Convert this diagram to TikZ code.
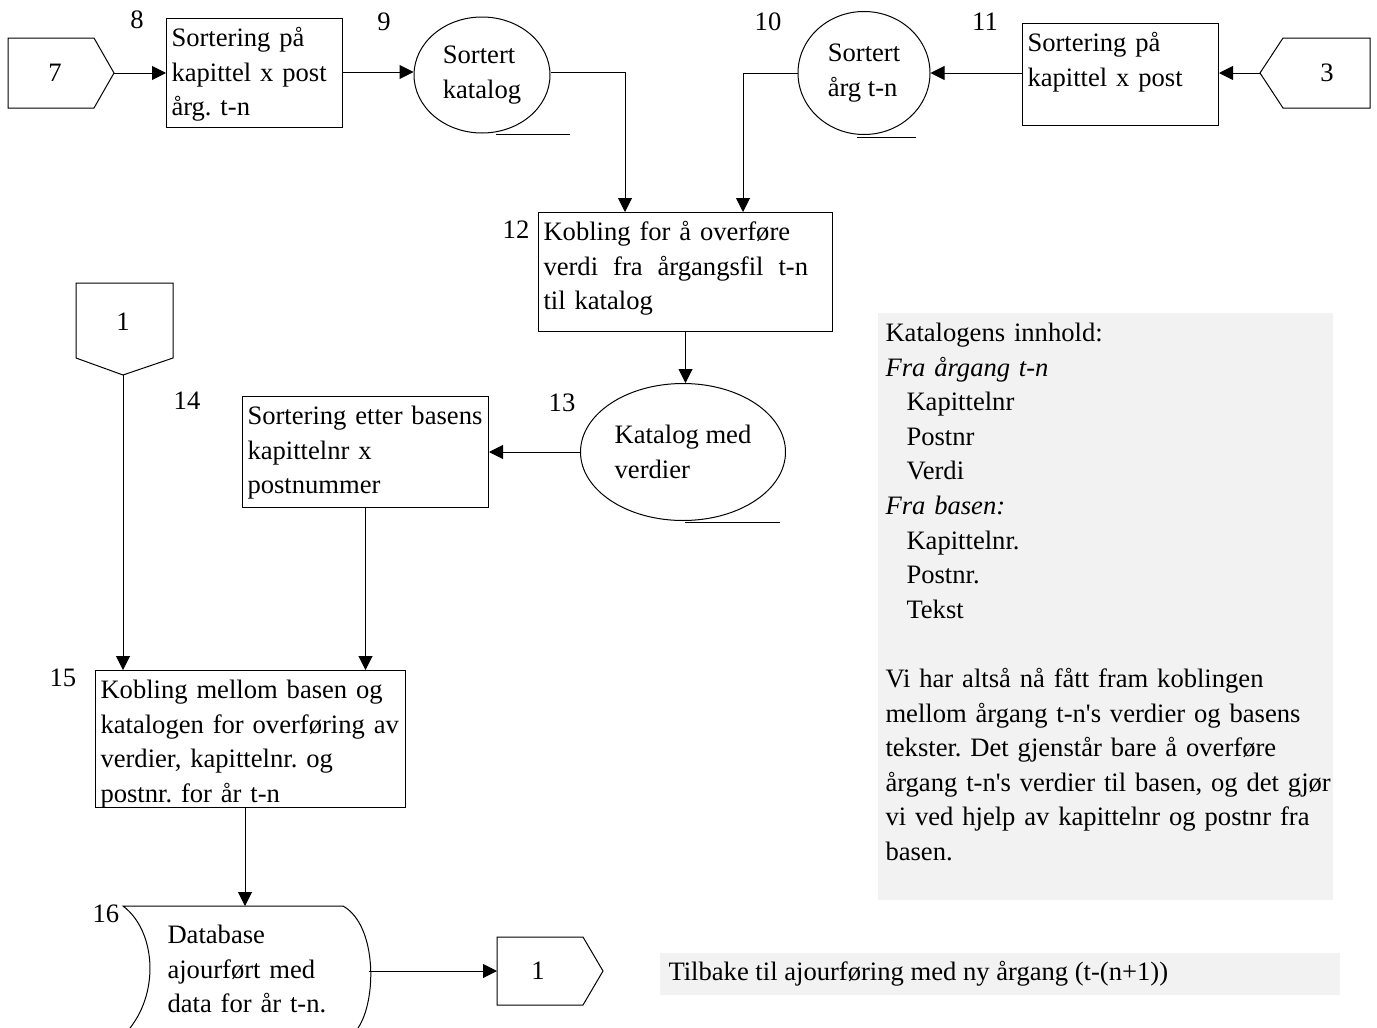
\documentclass[tikz,border=0pt]{standalone}
\usepackage{fontspec}
\setmainfont{Liberation Serif}
\usetikzlibrary{shapes.geometric,arrows.meta}

\tikzset{
  procbox/.style={draw, rectangle, anchor=north west, align=left,
    inner xsep=2.5pt, inner ysep=3pt, text height=11pt},
  store/.style={draw, ellipse, inner sep=0pt, align=left},
  flowarr/.style={-{Triangle[length=7pt,width=7pt]}},
  stepno/.style={inner sep=0pt},
  plaintext/.style={anchor=north west, align=left, inner sep=0pt, text height=11pt}
}

\begin{document}
\frenchspacing
\begin{tikzpicture}[x=0.5pt,y=-0.5pt,line width=0.5pt,
    font=\fontsize{13.3}{17.3}\selectfont]
  \useasboundingbox (0,0) rectangle (1377,1028);
  % grey notes
  \fill[black!5] (878,313) rectangle (1333,900);
  \fill[black!5] (660,953) rectangle (1340,995);

  % off-page connectors
  \draw (8,38) -- (94,38) -- (114,73) -- (94,108) -- (8,108) -- cycle;
  \node (c7) at (55,73) {7};
  \coordinate (c7tip) at (114,73);
  \draw (1370,38) -- (1283,38) -- (1260,73) -- (1283,108) -- (1370,108) -- cycle;
  \node (c3) at (1327,73) {3};
  \coordinate (c3tip) at (1260,73);
  \draw (76,283) -- (173,283) -- (173,358) -- (123,375) -- (76,358) -- cycle;
  \node (c1top) at (123,322) {1};
  \coordinate (c1tip) at (123,375);
  \draw (497,937) -- (583,937) -- (603,971) -- (583,1005) -- (497,1005) -- cycle;
  \node (c1bot) at (538,971) {1};
  \coordinate (c1in) at (497,971);

  % processes
  \node[procbox, text width=83pt, text depth=37.5pt] (b8) at (166,18)
    {Sortering på\\kapittel x post\\årg. t-n};
  \node[procbox, text width=93pt, text depth=34pt] (b11) at (1022,23)
    {Sortering på\\kapittel x post};
  \node[procbox, text width=142pt, text depth=42.5pt] (b12) at (538,212)
    {Kobling for å overføre\\verdi\hspace{7.5pt}fra\hspace{7.5pt}årgangsfil\hspace{7.5pt}t-n\\til katalog};
  \node[procbox, text width=118pt, text depth=38.5pt] (b14) at (242,396)
    {Sortering etter basens\\kapittelnr x\\postnummer};
  \node[procbox, text width=150pt, text depth=51.5pt] (b15) at (95,670)
    {Kobling mellom basen og\\katalogen for overføring av\\verdier, kapittelnr. og\\postnr. for år t-n};

  % stores
  \node[store, minimum width=68pt, minimum height=58pt] (s9) at (482,75) {Sortert\\katalog};
  \node[store, minimum width=66pt, minimum height=61.5pt] (s10) at (864,73) {Sortert\\årg t-n};
  \node[store, minimum width=102.5pt, minimum height=68.5pt] (s13) at (683,452) {Katalog med\\verdier};
  \draw (496,134) -- (570,134);
  \draw (857,137) -- (916,137);
  \draw (685,522) -- (780,522);

  % database
  \draw (130,1028) .. controls (160,990) and (155,930) .. (123,906) -- (343,906)
    .. controls (377,925) and (377,1000) .. (358,1028);
  \node[plaintext, text width=100pt] (db16) at (167,921) {Database\\ajourført med\\data for år t-n.};
  \coordinate (db16in) at (245,906);
  \coordinate (db16out) at (369,971);

  % step numbers
  \node[stepno] (n8) at (137,20) {8};
  \node[stepno] (n9) at (384,22) {9};
  \node[stepno] (n10) at (768,22) {10};
  \node[stepno] (n11) at (985,22) {11};
  \node[stepno] (n12) at (516,230) {12};
  \node[stepno] (n13) at (562,403) {13};
  \node[stepno] (n14) at (187,401) {14};
  \node[stepno] (n15) at (63,678) {15};
  \node[stepno] (n16) at (106,914) {16};

  \coordinate (in12a) at (625,212);
  \coordinate (in12b) at (743,212);

  % flow
  \draw[flowarr] (c7tip) -- (c7tip -| b8.west);
  \draw[flowarr] (b8.east |- 0,72) -- (s9.west |- 0,72);
  \draw[flowarr] (s9.east |- 0,72) -| (in12a);
  \draw[flowarr] (s10.west) -| (in12b);
  \draw[flowarr] (s10.east -| b11.west) -- (s10.east);
  \draw[flowarr] (c3tip) -- (c3tip -| b11.east);
  \draw[flowarr] (b12.south) -- (b12.south |- s13.north);
  \draw[flowarr] (s13.west) -- (s13.west -| b14.east);
  \draw[flowarr] (c1tip) -- (c1tip |- b15.north);
  \draw[flowarr] (b14.south) -- (b14.south |- b15.north);
  \draw[flowarr] (db16in |- b15.south) -- (db16in);
  \draw[flowarr] (db16out) -- (c1in);

  % notes
  \node[plaintext, text width=225pt] (note) at (885,319)
    {Katalogens innhold:\\
     \textit{Fra årgang t-n}\\
     \hspace*{10.5pt}Kapittelnr\\
     \hspace*{10.5pt}Postnr\\
     \hspace*{10.5pt}Verdi\\
     \textit{Fra basen:}\\
     \hspace*{10.5pt}Kapittelnr.\\
     \hspace*{10.5pt}Postnr.\\
     \hspace*{10.5pt}Tekst\\[17.3pt]
     Vi har altså nå fått fram koblingen\\
     mellom årgang t-n\textquotesingle s verdier og basens\\
     tekster. Det gjenstår bare å overføre\\
     årgang t-n\textquotesingle s verdier til basen, og det gjør\\
     vi ved hjelp av kapittelnr og postnr fra\\
     basen.};
  \node[anchor=base west, inner sep=0pt] (back) at (668,980)
    {Tilbake til ajourføring med ny årgang (t-(n+1))};
\end{tikzpicture}
\end{document}
